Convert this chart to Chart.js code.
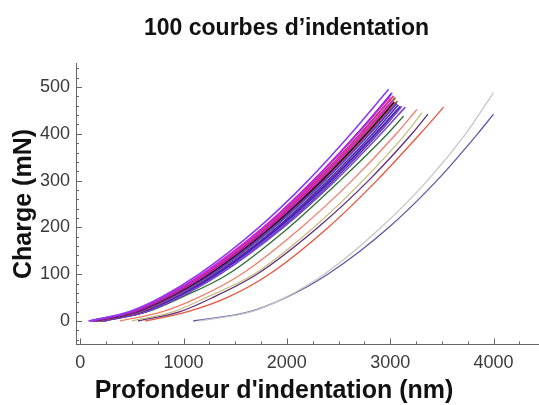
<!DOCTYPE html>
<html>
<head>
<meta charset="utf-8">
<script src="https://cdn.jsdelivr.net/npm/chart.js@4.4.1/dist/chart.umd.min.js"></script>
<style>
  html, body { margin:0; padding:0; background:#fff; }
  #wrap { width:539px; height:405px; }
</style>
</head>
<body>
<div id="wrap"><canvas id="chart"></canvas></div>
<script>
const loadLevels = [0, 20, 50, 100, 200, 300, 400];

// depth (nm) of each curve at those loads, then its last point
const startDepth = [80, 90, 100, 110, 120, 130, 140, 150, 160, 170, 180, 190, 200, 210, 220, 200, 230, 150, 100, 230, 387, 500, 560, 630, 1150, 1094];
const depthAt20  = [471, 489, 496, 510, 518, 532, 546, 550, 567, 573, 582, 595, 609, 619, 635, 609, 638, 540, 504, 651, 798, 904, 967, 1040, 1657, 1640];
const depthAt50  = [775, 797, 801, 820, 827, 841, 856, 858, 880, 885, 891, 910, 925, 936, 954, 924, 953, 839, 817, 975, 1140, 1216, 1281, 1420, 1982, 1989];
const depthAt100 = [1150, 1181, 1183, 1206, 1210, 1228, 1248, 1243, 1273, 1274, 1278, 1303, 1322, 1334, 1355, 1318, 1346, 1215, 1209, 1430, 1560, 1680, 1710, 1830, 2361, 2396];
const depthAt200 = [1730, 1775, 1773, 1802, 1804, 1824, 1845, 1838, 1874, 1869, 1874, 1904, 1924, 1938, 1967, 1922, 1949, 1795, 1811, 2020, 2140, 2260, 2300, 2400, 2911, 2986];
const depthAt300 = [2205, 2258, 2253, 2288, 2286, 2312, 2338, 2322, 2368, 2358, 2362, 2395, 2423, 2437, 2470, 2419, 2446, 2265, 2301, 2515, 2630, 2735, 2790, 2870, 3360, 3451];
const depthAt400 = [2620, 2686, 2678, 2717, 2713, 2740, 2770, 2751, 2804, 2790, 2790, 2831, 2857, 2873, 2912, 2857, 2882, 2681, 2737, 2975, 3060, 3150, 3210, 3290, 3730, 3846];
const endDepth   = [2985, 3000, 3010, 3033, 3004, 3020, 3040, 3050, 3065, 3030, 3070, 3080, 3098, 3114, 3146, 3060, 3100, 3020, 3050, 3130, 3259, 3307, 3365, 3517, 4000, 4000];
const endLoad    = [495, 480, 485, 481, 474, 470, 468, 476, 465, 460, 470, 462, 459, 459, 457, 449, 455, 488, 478, 438, 452, 445, 442, 457, 488, 442];

const curveColors = [
  '#8a3cf0','#e619d6','#3b3be6','#d63a8a','#1d1d6e','#ee10e0','#111111','#9a6a3a','#4646c8','#ff2a8a',
  '#b04848','#5a22a8','#2f2fb8','#a04ef0','#7a48d0','#c8186a','#2a2a5a','#d84ad8','#a87038',
  '#2e6e38','#f27c6c','#c9be80','#5c2e7c','#e9543e','#c6c6c6','#5b5ba9'
];

const xTickValues = [0, 1000, 2000, 3000, 4000];
const yTickValues = [0, 100, 200, 300, 400, 500];

const depthCols = [startDepth, depthAt20, depthAt50, depthAt100, depthAt200, depthAt300, depthAt400];

const datasets = startDepth.map((_, c) => {
  const pts = loadLevels.map((p, i) => ({ x: depthCols[i][c], y: p }));
  pts.push({ x: endDepth[c], y: endLoad[c] });
  return {
    data: pts,
    showLine: true,
    borderColor: curveColors[c],
    borderWidth: c < 19 ? 1.6 : 1.3,
    pointRadius: 0,
    cubicInterpolationMode: 'monotone'
  };
});

const FONT = "'Liberation Sans', Arial, Helvetica, sans-serif";

// Mathematica-style inward ticks + axis titles
const frameTicks = {
  id: 'frameTicks',
  afterDraw(chart){
    const { ctx, chartArea: a, scales: { x, y } } = chart;
    ctx.save();
    ctx.strokeStyle = '#666';
    ctx.lineWidth = 1;
    ctx.beginPath();
    for (let v = 0; v <= x.max; v += 250){
      const px = Math.round(x.getPixelForValue(v)) + 0.5;
      const len = xTickValues.includes(v) ? 6 : 3;
      ctx.moveTo(px, a.bottom); ctx.lineTo(px, a.bottom - len);
    }
    for (let v = -40; v <= y.max; v += 20){
      const py = Math.round(y.getPixelForValue(v)) + 0.5;
      const len = yTickValues.includes(v) ? 6 : 3;
      ctx.moveTo(a.left, py); ctx.lineTo(a.left + len, py);
    }
    ctx.stroke();

    ctx.fillStyle = '#111';
    ctx.font = 'bold 25px ' + FONT;
    ctx.textAlign = 'center';
    ctx.textBaseline = 'alphabetic';
    ctx.fillText("Profondeur d'indentation (nm)", a.left + 198, 398);
    ctx.translate(31, (a.top + a.bottom) / 2);
    ctx.rotate(-Math.PI / 2);
    ctx.fillText('Charge (mN)', 0, 0);
    ctx.restore();
  }
};

new Chart(document.getElementById('chart'), {
  type: 'scatter',
  data: { datasets },
  options: {
    responsive: true,
    maintainAspectRatio: false,
    animation: false,
    layout: { padding: { left: 34, right: 0, top: 0, bottom: 23 } },
    plugins: {
      legend: { display: false },
      tooltip: { enabled: false },
      title: {
        display: true,
        text: '100 courbes d’indentation',
        color: '#111',
        font: { family: FONT, size: 23, weight: 'bold' },
        padding: { top: 15, bottom: 21 }
      }
    },
    scales: {
      x: {
        type: 'linear',
        min: -40, max: 4440,
        afterBuildTicks: s => { s.ticks = xTickValues.map(v => ({ value: v })); },
        grid: { display: true, drawOnChartArea: false, drawTicks: false },
        border: { display: true, color: '#666', width: 1 },
        ticks: { padding: 8, color: '#3a3a3a', font: { family: FONT, size: 18 }, callback: v => String(v) }
      },
      y: {
        type: 'linear',
        min: -50, max: 550,
        afterBuildTicks: s => { s.ticks = yTickValues.map(v => ({ value: v })); },
        grid: { display: true, drawOnChartArea: false, drawTicks: false },
        border: { display: true, color: '#666', width: 1 },
        ticks: { padding: 6, color: '#3a3a3a', font: { family: FONT, size: 18 }, callback: v => String(v) }
      }
    }
  },
  plugins: [frameTicks]
});
</script>
</body>
</html>
